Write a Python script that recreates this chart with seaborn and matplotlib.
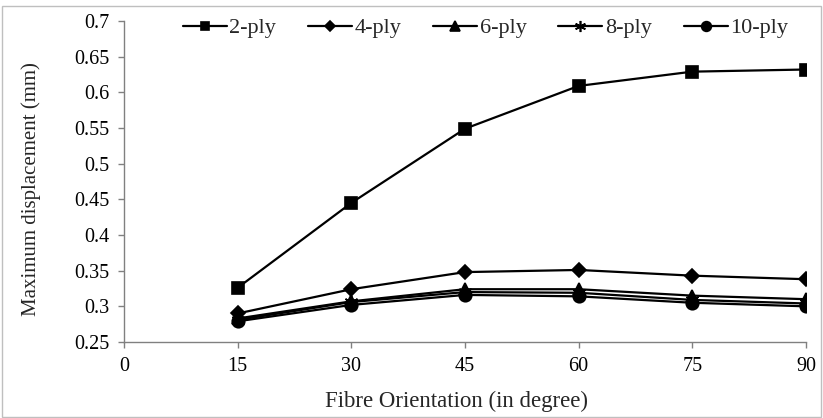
import matplotlib
matplotlib.use("Agg")
import matplotlib.pyplot as plt
import seaborn as sns
import pandas as pd
from matplotlib.patches import Rectangle

angles = [15, 30, 45, 60, 75, 90]
series_names = ["2-ply", "4-ply", "6-ply", "8-ply", "10-ply"]
ply2 = [0.326, 0.445, 0.549, 0.609, 0.629, 0.632]
ply4 = [0.290, 0.324, 0.348, 0.351, 0.343, 0.338]
ply6 = [0.283, 0.307, 0.324, 0.324, 0.315, 0.310]
ply8 = [0.281, 0.306, 0.320, 0.319, 0.309, 0.304]
ply10 = [0.279, 0.302, 0.316, 0.314, 0.305, 0.300]
x_ticks = [0, 15, 30, 45, 60, 75, 90]
y_ticks = [0.25, 0.3, 0.35, 0.4, 0.45, 0.5, 0.55, 0.6, 0.65, 0.7]

sns.set_theme(style="white")
plt.rcParams["font.family"] = ["Liberation Serif", "DejaVu Serif"]

fig = plt.figure(figsize=(8.23, 4.18), dpi=100)
ax = fig.add_axes([124 / 823, 1 - 342 / 418, (806 - 124) / 823, (342 - 21) / 418])

markers = {"2-ply": "s", "4-ply": "D", "6-ply": "^", "8-ply": (6, 2, 0), "10-ply": "o"}
sizes_m = {"2-ply": 8, "4-ply": 7, "6-ply": 9, "8-ply": 10, "10-ply": 9}
leg_sizes = {"2-ply": 6, "4-ply": 5, "6-ply": 7, "8-ply": 8, "10-ply": 7}

for name, vals in zip(series_names, [ply2, ply4, ply6, ply8, ply10]):
    d = pd.DataFrame({"angle": angles, "disp": vals})
    sns.lineplot(data=d, x="angle", y="disp", ax=ax, color="black",
                 marker=markers[name], markersize=sizes_m[name],
                 markeredgecolor="black", markerfacecolor="black",
                 markeredgewidth=1.2, linewidth=1.6, label=name)

ax.set_xlim(0, 90)
ax.set_ylim(0.25, 0.7)
ax.set_xticks(x_ticks)
ax.set_xticklabels([str(t) for t in x_ticks])
ax.set_yticks(y_ticks)
ax.set_yticklabels([f"{t:g}" for t in y_ticks])

for s in ["top", "right"]:
    ax.spines[s].set_visible(False)
for s in ["left", "bottom"]:
    ax.spines[s].set_color("#808080")
    ax.spines[s].set_linewidth(1.0)

ax.tick_params(axis="both", which="major", direction="out", length=4.5,
               color="#808080", width=1.0, labelsize=14.5, labelcolor="black")
ax.tick_params(axis="x", pad=6)
ax.tick_params(axis="y", pad=6)
ax.tick_params(left=True, bottom=True)

ax.set_xlabel("Fibre Orientation (in degree)", fontsize=16.5)
ax.set_ylabel("Maximum displacement (mm)", fontsize=15)
ax.xaxis.set_label_coords(0.487, -0.153)
ax.yaxis.set_label_coords(-0.122, 0.477)

leg = ax.legend(loc="center", bbox_to_anchor=(0.530, 0.978), ncol=5, frameon=False,
                fontsize=16, handlelength=1.98, columnspacing=1.44, handletextpad=0.1,
                borderaxespad=0, borderpad=0)
for h, name in zip(leg.legend_handles, series_names):
    h.set_markersize(leg_sizes[name])

fig.patches.append(Rectangle((0.002, 0.002), 0.996, 0.984, transform=fig.transFigure,
                             fill=False, edgecolor="#bfbfbf", linewidth=1.0))

fig.savefig("out.png", dpi=100)
